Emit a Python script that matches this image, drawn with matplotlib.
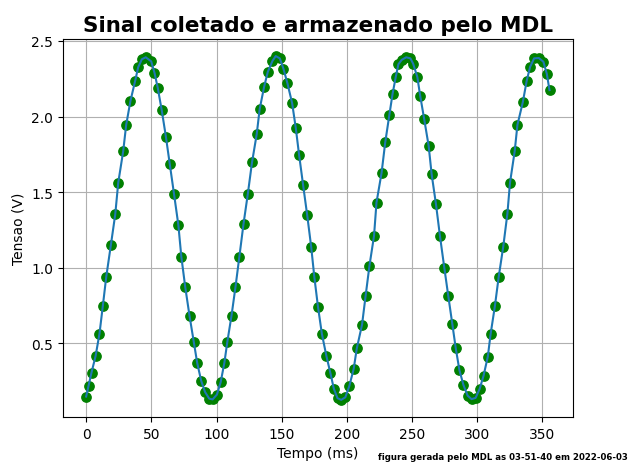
import matplotlib
matplotlib.use('Agg')
import matplotlib.pyplot as plt

tempo_ms = [
    0.0, 1.8, 4.1, 7.2, 10.2, 12.8, 15.4, 18.9, 22.3, 24.6, 28.4, 30.7, 34.0, 37.5,
    39.9, 42.7, 45.7, 49.9, 52.4, 54.9, 58.0, 61.2, 64.1, 67.4, 70.7, 73.0, 76.0,
    79.3, 82.5, 85.2, 88.2, 91.2, 94.4, 97.0, 100.3, 103.2, 106.0, 108.3, 111.5,
    114.5, 117.5, 120.7, 124.0, 127.2, 130.8, 133.1, 136.5, 139.3, 142.9, 145.4,
    148.5, 151.3, 154.4, 158.0, 160.8, 163.3, 166.4, 169.5, 172.6, 175.0, 177.8,
    180.8, 184.3, 187.4, 190.0, 192.8, 195.6, 198.8, 201.8, 205.2, 207.6, 211.6,
    214.3, 217.3, 220.8, 222.7, 226.6, 229.4, 232.5, 235.0, 237.5, 239.5, 242.0,
    245.5, 248.7, 250.8, 254.0, 256.2, 259.3, 262.7, 265.0, 268.3, 271.4, 274.7,
    277.8, 280.9, 283.5, 286.3, 289.4, 292.6, 295.6, 298.7, 301.8, 304.8, 308.1,
    310.2, 313.5, 316.4, 319.9, 323.1, 325.1, 328.7, 330.8, 334.9, 337.9, 340.5,
    343.6, 347.2, 350.7, 353.3, 355.4,
]
tensao_v = [
    0.147, 0.217, 0.306, 0.414, 0.562, 0.748, 0.939, 1.147, 1.352, 1.562, 1.770,
    1.945, 2.105, 2.233, 2.326, 2.379, 2.392, 2.365, 2.290, 2.190, 2.040, 1.864,
    1.687, 1.487, 1.283, 1.072, 0.871, 0.680, 0.511, 0.368, 0.252, 0.177, 0.133,
    0.128, 0.160, 0.243, 0.370, 0.510, 0.683, 0.870, 1.072, 1.290, 1.488, 1.696,
    1.882, 2.050, 2.197, 2.295, 2.368, 2.400, 2.385, 2.317, 2.219, 2.088, 1.923,
    1.748, 1.547, 1.350, 1.138, 0.939, 0.742, 0.562, 0.414, 0.300, 0.198, 0.136,
    0.125, 0.142, 0.215, 0.330, 0.466, 0.622, 0.810, 1.013, 1.210, 1.431, 1.628,
    1.829, 2.007, 2.149, 2.263, 2.346, 2.375, 2.392, 2.385, 2.350, 2.262, 2.138,
    1.982, 1.806, 1.618, 1.421, 1.208, 1.000, 0.810, 0.624, 0.466, 0.322, 0.223,
    0.153, 0.130, 0.138, 0.197, 0.284, 0.412, 0.559, 0.745, 0.937, 1.138, 1.357,
    1.562, 1.770, 1.945, 2.094, 2.236, 2.328, 2.385, 2.387, 2.363, 2.284, 2.175,
]

fig = plt.figure(figsize=(6.3, 4.64), dpi=100)
ax = fig.add_subplot(111)
fig.subplots_adjust(left=0.1, right=0.909, top=0.914, bottom=0.099)

ax.scatter(tempo_ms, tensao_v, color='green', s=45, zorder=2)
ax.plot(tempo_ms, tensao_v, color='#1f77b4', linewidth=1.5, zorder=3)

ax.set_title('Sinal coletado e armazenado pelo MDL', fontsize=15.5, fontweight='bold')
ax.set_xlabel('Tempo (ms)')
ax.set_ylabel('Tensao (V)')
ax.set_xticks([0, 50, 100, 150, 200, 250, 300, 350])
ax.set_yticks([0.5, 1.0, 1.5, 2.0, 2.5])
ax.grid(True)

fig.text(0.997, 0.005, 'figura gerada pelo MDL as 03-51-40 em 2022-06-03',
         ha='right', va='bottom', fontsize=6.2, fontweight='bold')

plt.savefig('out.png', dpi=100)
